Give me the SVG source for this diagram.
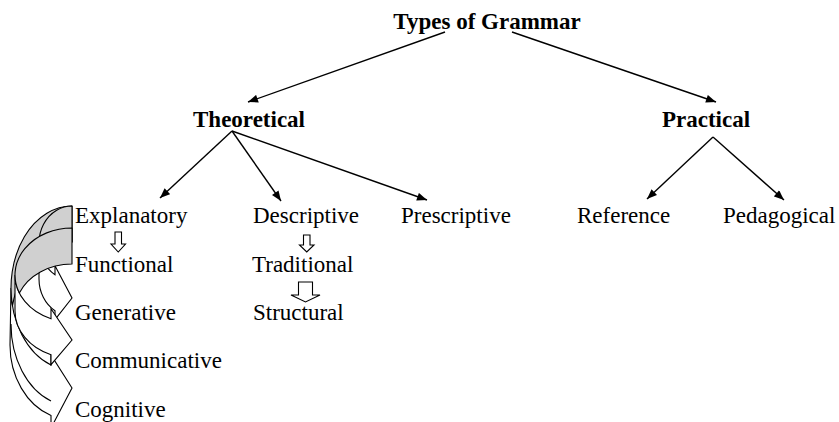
<svg xmlns="http://www.w3.org/2000/svg" width="839" height="422" viewBox="0 0 839 422">
<defs>
<marker id="ah" viewBox="0 0 10 8" refX="10" refY="4" markerWidth="11" markerHeight="8" markerUnits="userSpaceOnUse" orient="auto">
<path d="M0,0 L10,4 L0,8 Z" fill="#000"/>
</marker>
</defs>
<style>
text{font-family:"Liberation Serif","Times New Roman",serif;font-size:23px;fill:#000}
.b{font-weight:bold}
.con{stroke:#000;stroke-width:1.4;fill:none;marker-end:url(#ah)}
.blk{fill:#fff;stroke:#000;stroke-width:1.1}
.cr{fill:#d0d0d0;stroke:#000;stroke-width:1.1;stroke-linejoin:round}
.bd{fill:#fff;stroke:#000;stroke-width:1.1;stroke-linejoin:miter}
.ln{fill:none;stroke:#000;stroke-width:1.1}
</style>
<rect width="839" height="422" fill="#fff"/>

<g id="connectors">
<path class="con" d="M445,32 L248,102"/>
<path class="con" d="M512,32 L716,102"/>
<path class="con" d="M232,131 L160,198"/>
<path class="con" d="M232,131 L281,201"/>
<path class="con" d="M232,131 L427,200"/>
<path class="con" d="M713,137 L647,199"/>
<path class="con" d="M713,137 L784,200"/>
</g>

<g id="types"><text class="b" x="487" y="29" text-anchor="middle">Types of Grammar</text></g>
<g id="theoretical"><text class="b" x="249" y="127" text-anchor="middle">Theoretical</text></g>
<g id="practical"><text class="b" x="706" y="127" text-anchor="middle">Practical</text></g>
<g id="explanatory"><text x="75" y="223">Explanatory</text></g>
<g id="descriptive"><text x="253" y="223">Descriptive</text></g>
<g id="prescriptive"><text x="401" y="223">Prescriptive</text></g>
<g id="reference"><text x="577" y="223">Reference</text></g>
<g id="pedagogical"><text x="723" y="223">Pedagogical</text></g>
<g id="functional"><text x="75" y="272">Functional</text></g>
<g id="traditional"><text x="252" y="272">Traditional</text></g>
<g id="generative"><text x="75" y="320">Generative</text></g>
<g id="structural"><text x="253" y="320">Structural</text></g>
<g id="communicative"><text x="75" y="368">Communicative</text></g>
<g id="cognitive"><text x="75" y="417">Cognitive</text></g>

<g id="block-arrows">
<path class="blk" d="M115,232 H121.5 V244 H125.5 L118.25,252 L111,244 H115 Z"/>
<path class="blk" d="M303.5,235 H310 V245 H314 L306.75,252 L299.5,245 H303.5 Z"/>
<path class="blk" d="M298.5,282 H312.5 V295 H320 L305.5,302 L291,295 H298.5 Z"/>
</g>

<g id="curved-arrow-cognitive">
<path class="bd" d="M11,288 A61,82 0 0 0 51,365 L51,355 L72,388 L51,428 L51,415.6 A62,75 0 0 1 10,345 Z"/>
<path class="ln" d="M11,324 A61,82 0 0 0 51,401"/>
<path class="cr" d="M72,242 A61,82 0 0 0 12.49,306 A61,82 0 0 1 72,206 Z"/>
</g>
<g id="curved-arrow-generative">
<path class="bd" d="M39,243 A33,37 0 0 0 55,274.7 L55,265.7 L72,298 L55,319.7 L55,310.7 A33,37 0 0 1 39,279 Z"/>
<path class="cr" d="M72,242 A33,37 0 0 0 43.17,261 A33,37 0 0 1 72,206 Z"/>
</g>
<g id="curved-arrow-communicative">
<path class="bd" d="M15,275 A57,47 0 0 0 51,318.7 L51,308.7 L72,340 L51,364.7 L51,354.7 A57,47 0 0 1 15,311 Z"/>
<path class="cr" d="M72,264 A57,47 0 0 0 19.35,293 A57,47 0 0 1 72,228 Z"/>
</g>
</svg>
